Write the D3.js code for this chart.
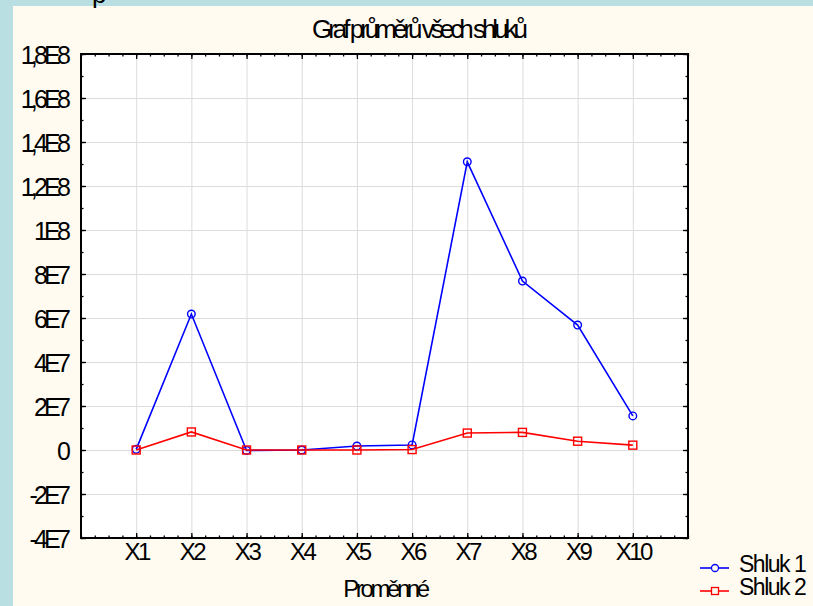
<!DOCTYPE html>
<html>
<head>
<meta charset="utf-8">
<script src="https://cdn.jsdelivr.net/npm/d3@7"></script>
<style>
  html, body { margin: 0; padding: 0; background: #b9dfe3; }
  svg { display: block; }
  text { font-family: "Liberation Sans", Arial, sans-serif; fill: #000; }
  .grid line { stroke: #dcdcdc; stroke-width: 1; }
  .grid path { display: none; }
  .ax path { display: none; }
  .ax line { stroke: #000; stroke-width: 1.3; }
</style>
</head>
<body>
<svg id="chart" width="813" height="606"></svg>
<script>
// values
const categories = ['X1', 'X2', 'X3', 'X4', 'X5', 'X6', 'X7', 'X8', 'X9', 'X10'];
const shluk1 = [0.03e7, 6.18e7, -0.02e7, 0.0e7, 0.18e7, 0.23e7, 13.1e7, 7.68e7, 5.68e7, 1.55e7];
const shluk2 = [0.0e7, 0.82e7, 0.0e7, 0.0e7, 0.0e7, 0.02e7, 0.77e7, 0.8e7, 0.4e7, 0.22e7];
const yTickValues = [1.8e8, 1.6e8, 1.4e8, 1.2e8, 1e8, 8e7, 6e7, 4e7, 2e7, 0, -2e7, -4e7];
const yTickLabels = ['1,8E8', '1,6E8', '1,4E8', '1,2E8', '1E8', '8E7', '6E7', '4E7', '2E7', '0', '-2E7', '-4E7'];
const seriesNames = ['Shluk 1', 'Shluk 2'];

const svg = d3.select('#chart');
const L = 81, R = 688, T = 54, B = 538;

// cream panel
svg.append('rect').attr('x', 13).attr('y', 6).attr('width', 800).attr('height', 600).attr('fill', '#fffbf0');
// cut-off letter above the panel (only its descender shows)
svg.append('text').attr('x', 92).attr('y', 3).style('font-size', '26px').text('p');

const x = d3.scaleLinear().domain([0, categories.length + 1]).range([L, R]);
const y = d3.scaleLinear().domain([-4e7, 1.8e8]).range([B, T]);

svg.append('rect').attr('x', L).attr('y', T).attr('width', R - L).attr('height', B - T).attr('fill', '#fff');

const xPos = categories.map((c, i) => i + 1);
const minorX = d3.range(0, categories.length + 1 + 0.001, 0.25);
const minorY = d3.range(-4e7, 1.8e8 + 1, 1e7);

// gridlines
svg.append('g').attr('class', 'grid').attr('transform', `translate(0,${B})`)
  .call(d3.axisBottom(x).tickValues(xPos).tickSize(-(B - T)).tickFormat(''));
svg.append('g').attr('class', 'grid').attr('transform', `translate(${L},0)`)
  .call(d3.axisLeft(y).tickValues(yTickValues.filter(v => v > -4e7 && v < 1.8e8)).tickSize(-(R - L)).tickFormat(''));

// minor ticks (inside the frame)
svg.append('g').attr('class', 'ax').attr('transform', `translate(0,${B})`)
  .call(d3.axisBottom(x).tickValues(minorX).tickSize(-2.5).tickFormat(''));
svg.append('g').attr('class', 'ax').attr('transform', `translate(0,${T})`)
  .call(d3.axisTop(x).tickValues(minorX).tickSize(-2.5).tickFormat(''));
svg.append('g').attr('class', 'ax').attr('transform', `translate(${L},0)`)
  .call(d3.axisLeft(y).tickValues(minorY).tickSize(-2.5).tickFormat(''));
svg.append('g').attr('class', 'ax').attr('transform', `translate(${R},0)`)
  .call(d3.axisRight(y).tickValues(minorY).tickSize(-2.5).tickFormat(''));

// major ticks
svg.append('g').attr('class', 'ax').attr('transform', `translate(0,${T})`)
  .call(d3.axisTop(x).tickValues(xPos).tickSize(-5).tickFormat(''));
svg.append('g').attr('class', 'ax').attr('transform', `translate(${R},0)`)
  .call(d3.axisRight(y).tickValues(yTickValues).tickSize(-5).tickFormat(''));

const xAxis = svg.append('g').attr('class', 'ax').attr('transform', `translate(0,${B})`)
  .call(d3.axisBottom(x).tickValues(xPos).tickSize(-5).tickPadding(5).tickFormat((d, i) => categories[i]));
xAxis.selectAll('text').style('font-size', '24px').style('letter-spacing', '-2.5px').attr('dy', '0.72em');

const yAxis = svg.append('g').attr('class', 'ax').attr('transform', `translate(${L},0)`)
  .call(d3.axisLeft(y).tickValues(yTickValues).tickSize(-5).tickPadding(14).tickFormat((d, i) => yTickLabels[i]));
yAxis.selectAll('text').style('font-size', '25px').style('letter-spacing', '-3.8px').attr('dy', '0.36em');

// frame
svg.append('rect').attr('x', L).attr('y', T).attr('width', R - L).attr('height', B - T)
  .attr('fill', 'none').attr('stroke', '#000').attr('stroke-width', 2);

// series
const line = d3.line().x((d, i) => x(i + 1)).y(d => y(d));
svg.append('path').datum(shluk1).attr('d', line).attr('fill', 'none').attr('stroke', '#0000ff').attr('stroke-width', 1.6);
svg.append('g').selectAll('circle').data(shluk1).join('circle')
  .attr('cx', (d, i) => x(i + 1)).attr('cy', d => y(d)).attr('r', 3.8)
  .attr('fill', 'none').attr('stroke', '#0000ff').attr('stroke-width', 1.4);

svg.append('path').datum(shluk2).attr('d', line).attr('fill', 'none').attr('stroke', '#ff0000').attr('stroke-width', 1.6);
svg.append('g').selectAll('rect').data(shluk2).join('rect')
  .attr('x', (d, i) => x(i + 1) - 4).attr('y', d => y(d) - 4).attr('width', 8).attr('height', 8)
  .attr('fill', 'none').attr('stroke', '#ff0000').attr('stroke-width', 1.4);

// title and axis label
svg.append('text').attr('x', 418).attr('y', 38).attr('text-anchor', 'middle')
  .style('font-size', '26px').style('letter-spacing', '-4px').text('Graf průměrů všech shluků');
svg.append('text').attr('x', 385).attr('y', 597).attr('text-anchor', 'middle')
  .style('font-size', '24px').style('letter-spacing', '-3.4px').text('Proměnné');

// legend
const leg = svg.append('g');
const legColors = ['#0000ff', '#ff0000'];
seriesNames.forEach((name, i) => {
  const ly = 568 + i * 23;
  leg.append('line').attr('x1', 700).attr('x2', 729).attr('y1', ly).attr('y2', ly)
    .attr('stroke', legColors[i]).attr('stroke-width', 1.6);
  if (i === 0) {
    leg.append('circle').attr('cx', 715).attr('cy', ly).attr('r', 3.5)
      .attr('fill', '#fffbf0').attr('stroke', legColors[i]).attr('stroke-width', 1.3);
  } else {
    leg.append('rect').attr('x', 711.5).attr('y', ly - 3.5).attr('width', 7).attr('height', 7)
      .attr('fill', '#fffbf0').attr('stroke', legColors[i]).attr('stroke-width', 1.3);
  }
  leg.append('text').attr('x', 739).attr('y', ly + 4)
    .style('font-size', '23px').style('letter-spacing', '-1.5px').text(name);
});
</script>
</body>
</html>
